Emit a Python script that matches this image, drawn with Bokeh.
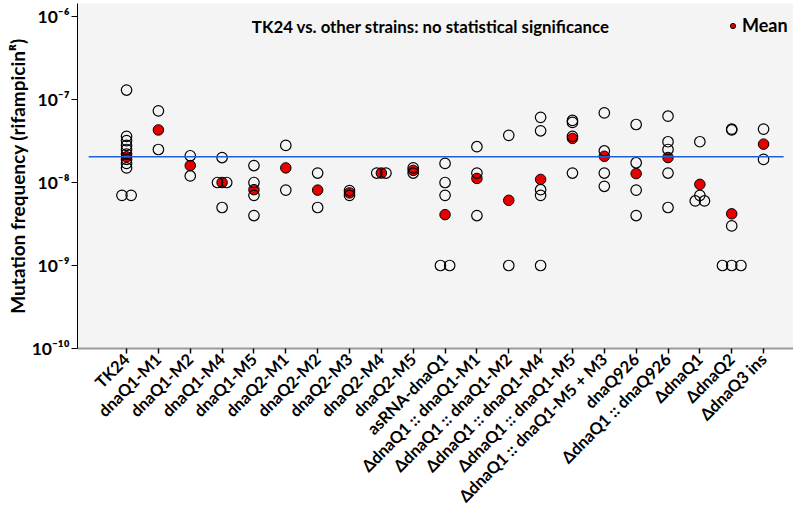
import math
from bokeh.plotting import figure
from bokeh.models import (Range1d, FixedTicker, CustomJSTickFormatter, Legend, LegendItem,
                          Label, LogTicker)
from bokeh.embed import file_html
from bokeh.resources import INLINE

# ---------------- data ----------------
categories = ["TK24", "dnaQ1-M1", "dnaQ1-M2", "dnaQ1-M4", "dnaQ1-M5", "dnaQ2-M1", "dnaQ2-M2",
              "dnaQ2-M3", "dnaQ2-M4", "dnaQ2-M5", "asRNA-dnaQ1", "ΔdnaQ1 :: dnaQ1-M1",
              "ΔdnaQ1 :: dnaQ1-M2", "ΔdnaQ1 :: dnaQ1-M4", "ΔdnaQ1 :: dnaQ1-M5",
              "ΔdnaQ1 :: dnaQ1-M5 + M3", "dnaQ926", "ΔdnaQ1 :: dnaQ926", "ΔdnaQ1", "ΔdnaQ2",
              "ΔdnaQ3 ins"]

tk24 = [1.3e-7, 3.6e-8, 3.2e-8, 2.8e-8, 2.5e-8, 2.2e-8, 1.9e-8, 1.7e-8, 1.5e-8, 7e-9, 7e-9]
dnaq1_m1 = [7.3e-8, 2.5e-8]
dnaq1_m2 = [2.1e-8, 1.2e-8]
dnaq1_m4 = [2.0e-8, 1.0e-8, 1.0e-8, 5e-9]
dnaq1_m5 = [1.6e-8, 1.0e-8, 7e-9, 4e-9]
dnaq2_m1 = [2.8e-8, 8.1e-9]
dnaq2_m2 = [1.3e-8, 5e-9]
dnaq2_m3 = [8e-9, 7e-9]
dnaq2_m4 = [1.3e-8, 1.3e-8]
dnaq2_m5 = [1.5e-8, 1.3e-8]
asrna_dnaq1 = [1.7e-8, 1.0e-8, 7e-9, 1e-9, 1e-9]
d1_m1 = [2.7e-8, 1.3e-8, 4e-9]
d1_m2 = [3.7e-8, 1e-9]
d1_m4 = [6.1e-8, 4.2e-8, 8.2e-9, 7e-9, 1e-9]
d1_m5 = [5.6e-8, 5.3e-8, 3.6e-8, 1.3e-8]
d1_m5_m3 = [6.9e-8, 2.4e-8, 1.3e-8, 9e-9]
dnaq926 = [5e-8, 1.73e-8, 8.1e-9, 4e-9]
d1_dnaq926 = [6.3e-8, 3.1e-8, 2.5e-8, 1.3e-8, 5e-9]
d_dnaq1 = [3.1e-8, 7e-9, 6e-9, 6e-9]
d_dnaq2 = [4.3e-8, 4.4e-8, 3e-9, 1e-9, 1e-9, 1e-9]
d_dnaq3_ins = [4.4e-8, 1.9e-8]

values = [tk24, dnaq1_m1, dnaq1_m2, dnaq1_m4, dnaq1_m5, dnaq2_m1, dnaq2_m2, dnaq2_m3, dnaq2_m4,
          dnaq2_m5, asrna_dnaq1, d1_m1, d1_m2, d1_m4, d1_m5, d1_m5_m3, dnaq926, d1_dnaq926,
          d_dnaq1, d_dnaq2, d_dnaq3_ins]

means = [2.04e-8, 4.3e-8, 1.6e-8, 1.0e-8, 8.2e-9, 1.5e-8, 8.1e-9, 7.5e-9, 1.3e-8, 1.4e-8,
         4.1e-9, 1.12e-8, 6.1e-9, 1.09e-8, 3.4e-8, 2.07e-8, 1.28e-8, 2.0e-8, 9.5e-9, 4.2e-9,
         2.9e-8]

reference_value = means[0]   # TK24 mean, drawn as the blue reference line

# ---------------- side-by-side placement for identical values ----------------
JIT = 0.29
px, py = [], []
for i, vals in enumerate(values):
    counts = {}
    for v in vals:
        counts[v] = counts.get(v, 0) + 1
    seen = {}
    for v in vals:
        n = counts[v]
        k = seen.get(v, 0)
        seen[v] = k + 1
        px.append(i + (k - (n - 1) / 2) * JIT)
        py.append(v)

FONT = "Lato"

p = figure(frame_width=716, frame_height=345, output_backend="svg", toolbar_location=None,
           y_axis_type="log", min_border_top=3, min_border_right=0, min_border_left=77,
           x_range=Range1d(-1.54, 20.94), y_range=Range1d(1e-10, 10 ** -5.843))

p.background_fill_color = "#f4f4f4"
p.border_fill_color = "white"
p.outline_line_color = None
p.xgrid.visible = False
p.ygrid.visible = False

r_mean = p.scatter(x=list(range(len(categories))), y=means, size=10.5, marker="circle",
                   fill_color="#e60000", line_color="black", line_width=1)
p.scatter(x=px, y=py, size=10.5, marker="circle", fill_alpha=0, line_color="black",
          line_width=1.2)
p.segment(x0=[-1.19], y0=[reference_value], x1=[len(categories) - 1 + 0.63],
          y1=[reference_value], line_color="#1f5fd8", line_width=1.6)

yaxis = p.yaxis[0]
yaxis.ticker = LogTicker(num_minor_ticks=0, desired_num_ticks=5)
yaxis.formatter = CustomJSTickFormatter(code="""
const sup = {'-':'\u207b','0':'\u2070','1':'\u00b9','2':'\u00b2','3':'\u00b3','4':'\u2074',
             '5':'\u2075','6':'\u2076','7':'\u2077','8':'\u2078','9':'\u2079'};
const e = Math.round(Math.log10(tick));
return '10' + String(e).split('').map(c => sup[c]).join('');
""")
yaxis.axis_label = "Mutation frequency (rifampicin\u1d3f)"
yaxis.axis_label_text_font = FONT
yaxis.axis_label_text_font_style = "bold"
yaxis.axis_label_text_font_size = "19px"
yaxis.axis_label_text_color = "black"
yaxis.axis_label_standoff = 0
yaxis.major_label_text_font = FONT
yaxis.major_label_text_font_style = "bold"
yaxis.major_label_text_font_size = "17.5px"
yaxis.major_label_text_color = "black"
yaxis.major_label_standoff = 2
yaxis.axis_line_color = "black"
yaxis.major_tick_line_color = "black"
yaxis.major_tick_out = 6
yaxis.major_tick_in = 0
yaxis.minor_tick_line_color = None

xaxis = p.xaxis[0]
xaxis.ticker = FixedTicker(ticks=list(range(len(categories))))
xaxis.major_label_overrides = {i: c for i, c in enumerate(categories)}
xaxis.major_label_orientation = math.pi / 4
xaxis.major_label_text_font = FONT
xaxis.major_label_text_font_style = "bold"
xaxis.major_label_text_font_size = "16.5px"
xaxis.major_label_text_color = "black"
xaxis.major_label_standoff = 3
xaxis.axis_line_color = "#9a9a9a"
xaxis.axis_line_width = 2
xaxis.major_tick_line_color = "black"
xaxis.major_tick_line_width = 1.5
xaxis.major_tick_out = 5
xaxis.major_tick_in = 0
xaxis.minor_tick_line_color = None

p.add_layout(Label(x=9.55, y=10 ** -6.12, text="TK24 vs. other strains: no statistical significance",
                   text_font=FONT, text_font_style="bold", text_font_size="16.8px",
                   text_align="center", text_baseline="middle", text_color="black"))

legend = Legend(items=[LegendItem(label="Mean", renderers=[r_mean])], location=(649, 312),
                border_line_color=None, background_fill_alpha=0, label_text_font=FONT,
                label_text_font_style="bold", label_text_font_size="18px",
                label_text_color="black", glyph_width=13, glyph_height=13, label_standoff=3,
                padding=0, margin=0)
p.add_layout(legend)

open("out.html", "w").write(file_html(p, INLINE))
